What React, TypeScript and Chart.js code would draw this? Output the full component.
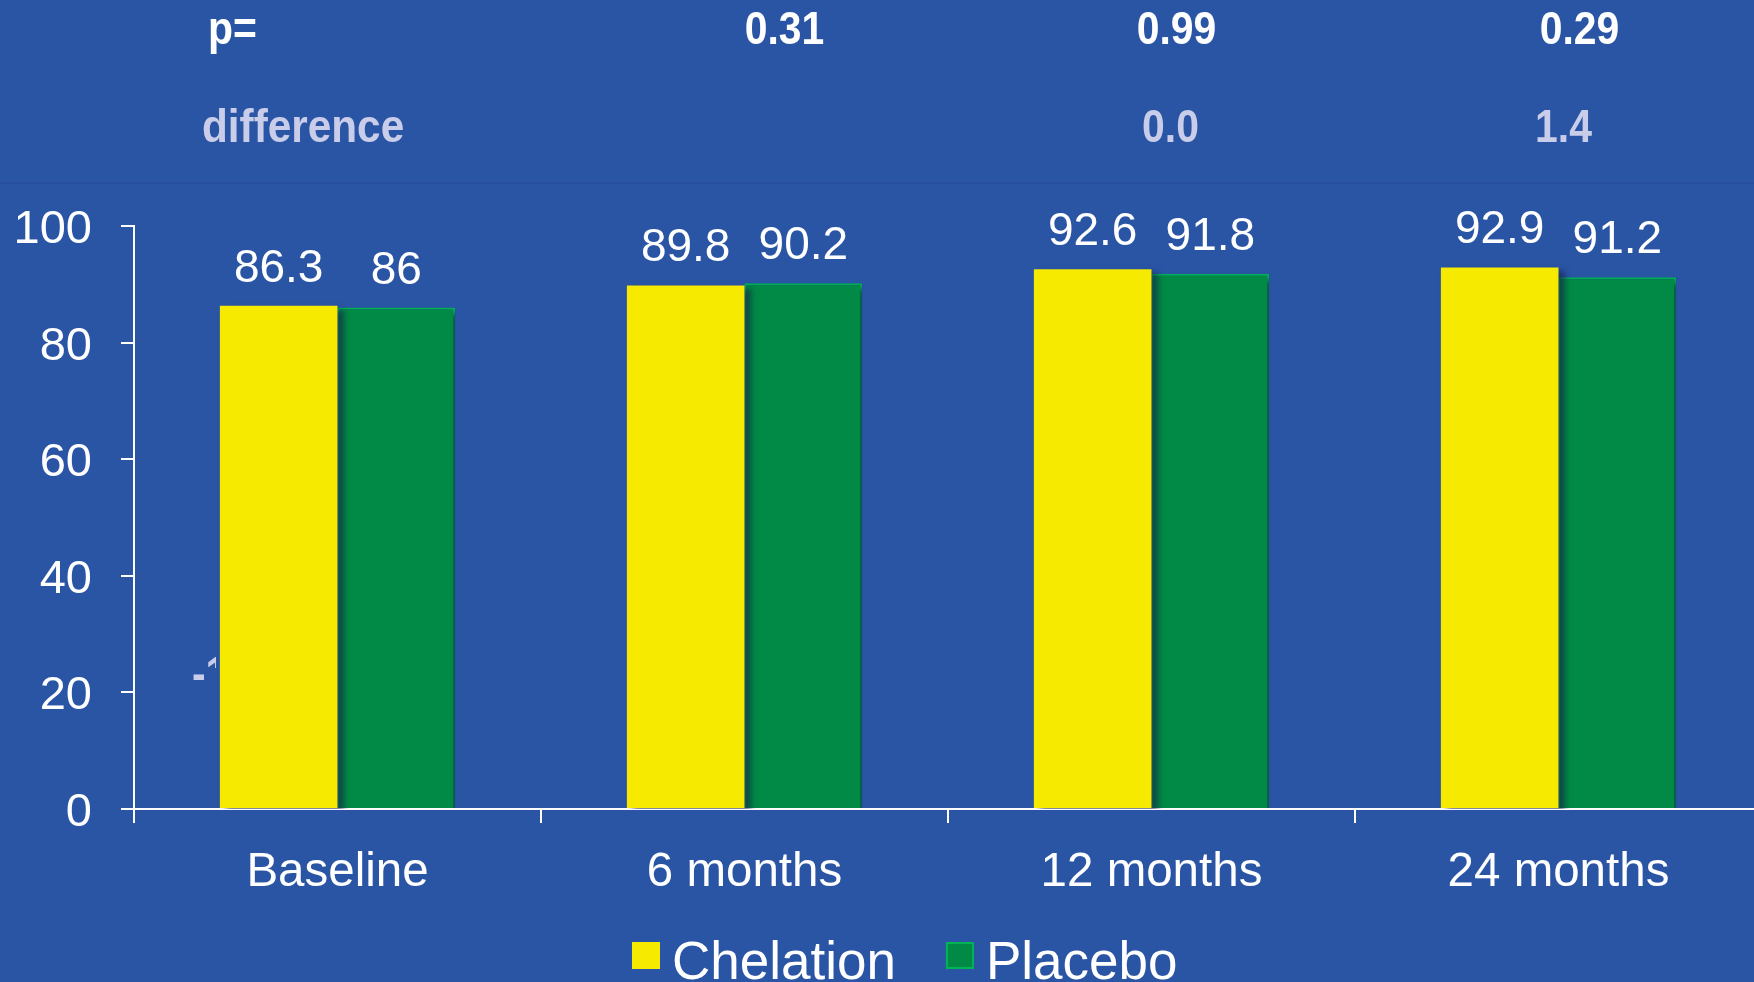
import React, { useEffect, useRef } from "react";
import { Chart, registerables } from "chart.js";

Chart.register(...registerables);

const categories = ["Baseline", "6 months", "12 months", "24 months"];
const chelation = [86.3, 89.8, 92.6, 92.9];
const placebo = [86, 90.2, 91.8, 91.2];
const pValues = ["", "0.31", "0.99", "0.29"];
const differences = ["", "", "0.0", "1.4"];
const yTicks = [0, 20, 40, 60, 80, 100];
const seriesNames = ["Chelation", "Placebo"];

const BG = "#2A55A5";
const YELLOW = "#F5EA00";
const GREEN = "#008A45";
const GREEN_BORDER = "#00B455";
const LAVENDER = "#C9CDE9";
const WHITE = "#FFFFFF";
const FONT = "'Liberation Sans', Arial, Helvetica, sans-serif";
const HEADER_DX = [0, 40, 25, 21];
const DIFF_DX = [0, 0, 19, 5];

function narrowText(ctx: CanvasRenderingContext2D, text: string, x: number, y: number, sx: number, align: CanvasTextAlign) {
  ctx.save();
  ctx.translate(x, y);
  ctx.scale(sx, 1);
  ctx.textAlign = align;
  ctx.fillText(text, 0, 0);
  ctx.restore();
}

export default function App() {
  const ref = useRef<HTMLCanvasElement>(null);

  useEffect(() => {
    const canvas = ref.current;
    if (!canvas) return;

    const bgPlugin = {
      id: "bg",
      beforeDraw(chart: any) {
        const { ctx } = chart;
        ctx.save();
        ctx.fillStyle = BG;
        ctx.fillRect(0, 0, chart.width, chart.height);
        ctx.fillStyle = "rgba(25,55,120,0.18)";
        ctx.fillRect(0, 182, chart.width, 2);
        ctx.restore();
      },
    };

    const hiddenNotePlugin = {
      id: "hiddenNote",
      beforeDatasetsDraw(chart: any) {
        const { ctx } = chart;
        ctx.save();
        ctx.beginPath();
        ctx.rect(180, 630, 26, 80);
        ctx.rect(206, 630, 10, 38);
        ctx.clip();
        ctx.fillStyle = LAVENDER;
        ctx.font = `bold 47px ${FONT}`;
        ctx.textBaseline = "alphabetic";
        narrowText(ctx, "-1", 192, 689, 0.87, "left");
        ctx.restore();
      },
    };

    const shadowPlugin = {
      id: "barShadow",
      beforeDatasetsDraw(chart: any) {
        const { ctx } = chart;
        ctx.save();
        ctx.shadowColor = "rgba(20,30,70,0.6)";
        ctx.shadowOffsetX = 6;
        ctx.shadowOffsetY = 4;
        ctx.shadowBlur = 6;
      },
      afterDatasetsDraw(chart: any) {
        chart.ctx.restore();
      },
    };

    const valueLabelPlugin = {
      id: "valueLabels",
      afterDatasetsDraw(chart: any) {
        const { ctx } = chart;
        ctx.save();
        ctx.fillStyle = WHITE;
        ctx.font = `46px ${FONT}`;
        ctx.textAlign = "center";
        ctx.textBaseline = "alphabetic";
        chart.data.datasets.forEach((ds: any, i: number) => {
          const meta = chart.getDatasetMeta(i);
          meta.data.forEach((bar: any, j: number) => {
            ctx.fillText(String(ds.data[j]), bar.x, bar.y - 24);
          });
        });
        ctx.restore();
      },
    };

    const headerPlugin = {
      id: "header",
      afterDraw(chart: any) {
        const { ctx } = chart;
        const x = chart.scales.x;
        ctx.save();
        ctx.textBaseline = "alphabetic";
        ctx.font = `bold 47px ${FONT}`;
        ctx.fillStyle = WHITE;
        narrowText(ctx, "p=", 208, 44, 0.87, "left");
        pValues.forEach((p, i) => {
          if (!p) return;
          narrowText(ctx, p, x.getPixelForValue(i) + HEADER_DX[i], 44, 0.87, "center");
        });
        ctx.fillStyle = LAVENDER;
        narrowText(ctx, "difference", 202, 142, 0.9, "left");
        differences.forEach((d, i) => {
          if (!d) return;
          narrowText(ctx, d, x.getPixelForValue(i) + DIFF_DX[i], 142, 0.87, "center");
        });
        ctx.restore();
      },
    };

    const legendPlugin = {
      id: "customLegend",
      afterDraw(chart: any) {
        const { ctx } = chart;
        ctx.save();
        ctx.font = `53px ${FONT}`;
        ctx.textBaseline = "alphabetic";
        ctx.textAlign = "left";
        let cx = 632;
        chart.data.datasets.forEach((ds: any) => {
          ctx.fillStyle = ds.backgroundColor;
          ctx.fillRect(cx, 942, 28, 27);
          if (ds.borderWidth) {
            ctx.strokeStyle = ds.borderColor;
            ctx.lineWidth = 2;
            ctx.strokeRect(cx + 1, 943, 26, 25);
          }
          ctx.fillStyle = WHITE;
          ctx.fillText(ds.label, cx + 40, 979);
          cx += 40 + ctx.measureText(ds.label).width + 50;
        });
        ctx.restore();
      },
    };

    const chart = new Chart(canvas, {
      type: "bar",
      data: {
        labels: categories,
        datasets: [
          {
            label: seriesNames[0],
            data: chelation,
            backgroundColor: YELLOW,
            borderWidth: 0,
            categoryPercentage: 0.578,
            barPercentage: 1.0,
          },
          {
            label: seriesNames[1],
            data: placebo,
            backgroundColor: GREEN,
            borderColor: GREEN_BORDER,
            borderWidth: 2,
            categoryPercentage: 0.578,
            barPercentage: 1.0,
          },
        ],
      },
      options: {
        responsive: false,
        animation: false,
        devicePixelRatio: 1,
        layout: { padding: { top: 226, left: 0, right: 0, bottom: 0 } },
        plugins: {
          legend: { display: false },
          tooltip: { enabled: false },
        },
        scales: {
          x: {
            grid: {
              offset: true,
              drawOnChartArea: false,
              drawTicks: true,
              tickLength: 14,
              color: WHITE,
              lineWidth: 2,
            },
            border: { color: WHITE, width: 2 },
            ticks: {
              color: WHITE,
              font: { size: 47.5, family: FONT },
              padding: 21,
              maxRotation: 0,
            },
            afterFit(s: any) {
              s.height = 982 - 809;
            },
          },
          y: {
            min: 0,
            max: 100,
            afterBuildTicks(s: any) {
              s.ticks = yTicks.map((v) => ({ value: v }));
            },
            grid: {
              drawOnChartArea: false,
              drawTicks: true,
              tickLength: 13,
              color: WHITE,
              lineWidth: 2,
            },
            border: { color: WHITE, width: 2 },
            ticks: {
              color: WHITE,
              font: { size: 47, family: FONT },
              padding: 29,
              labelOffset: 4,
            },
            afterFit(s: any) {
              s.width = 134;
            },
          },
        },
      },
      plugins: [bgPlugin, hiddenNotePlugin, shadowPlugin, valueLabelPlugin, headerPlugin, legendPlugin],
    } as any);

    return () => chart.destroy();
  }, []);

  return (
    <div
      style={{
        position: "fixed",
        left: 0,
        top: 0,
        width: 1754,
        height: 982,
        overflow: "hidden",
        background: BG,
      }}
    >
      <canvas ref={ref} width={1762} height={982} style={{ display: "block", width: 1762, height: 982 }} />
    </div>
  );
}
